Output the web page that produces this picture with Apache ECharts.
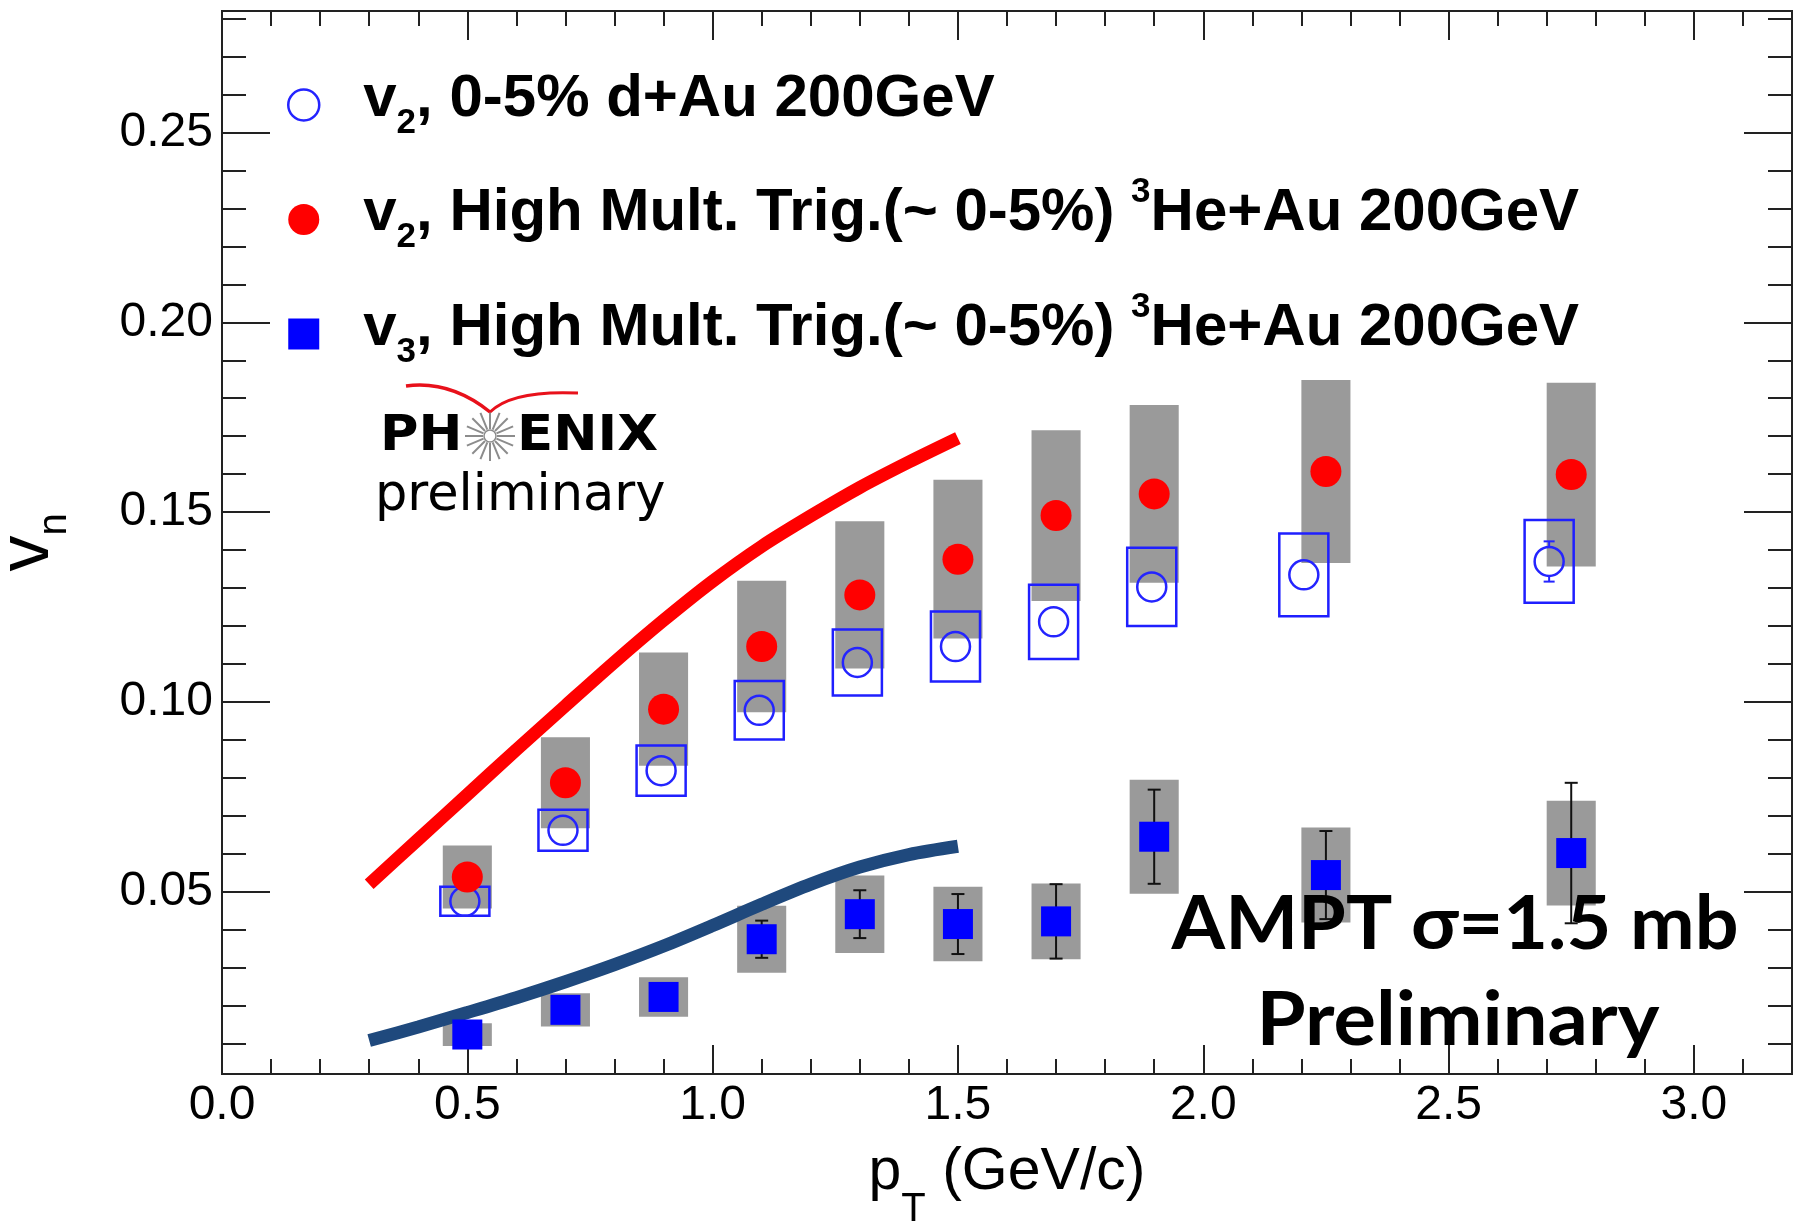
<!DOCTYPE html>
<html>
<head>
<meta charset="utf-8">
<script src="https://cdn.jsdelivr.net/npm/echarts@6/dist/echarts.min.js"></script>
<style>
  html, body { margin: 0; padding: 0; background: #fff; }
  #chart { width: 1810px; height: 1225px; }
</style>
</head>
<body>
<div id="chart"></div>
<script>
// vn vs pT : d+Au and 3He+Au (PHENIX preliminary) with AMPT curves

// --- data ---
const ptHe = [0.5, 0.7, 0.9, 1.1, 1.3, 1.5, 1.7, 1.9, 2.25, 2.75]
const ptDAu = [0.495, 0.695, 0.895, 1.095, 1.295, 1.495, 1.695, 1.895, 2.205, 2.705]

const v2He = [0.0539, 0.0787, 0.0981, 0.1146, 0.1282, 0.1376, 0.1491, 0.1548, 0.1607, 0.1599]
const v2HeSys = [0.0083, 0.012, 0.0149, 0.0173, 0.0194, 0.0209, 0.0225, 0.0234, 0.0241, 0.0242]

const v2DAu = [0.0475, 0.0662, 0.0819, 0.0978, 0.1104, 0.1146, 0.1211, 0.1303, 0.1335, 0.137]
const v2DAuSys = [0.0038, 0.0054, 0.0066, 0.0077, 0.0087, 0.0092, 0.0098, 0.0103, 0.0109, 0.0109]
const v2DAuStat = [0, 0, 0, 0, 0, 0, 0, 0, 0, 0.0053]

const v3He = [0.0124, 0.0189, 0.0223, 0.0375, 0.0441, 0.0415, 0.0422, 0.0645, 0.0544, 0.0602]
const v3HeStat = [0.002, 0.0025, 0.003, 0.0049, 0.0063, 0.0079, 0.0098, 0.0124, 0.0116, 0.0185]
const v3HeSys = [0.003, 0.0044, 0.0052, 0.0088, 0.0102, 0.0098, 0.01, 0.015, 0.0125, 0.0138]

const amptPt = [0.3, 0.4, 0.5, 0.6, 0.7, 0.8, 0.9, 1.0, 1.1, 1.2, 1.3, 1.4, 1.5]
const amptV2 = [0.052, 0.0638, 0.0756, 0.0874, 0.099, 0.1105, 0.1215, 0.1318, 0.141, 0.149, 0.1565, 0.1632, 0.1695]
const amptV3 = [0.0108, 0.0144, 0.0182, 0.0221, 0.0263, 0.0308, 0.0357, 0.0411, 0.0467, 0.052, 0.0565, 0.0598, 0.062]

const legendText = {
  dAu: '{p|v}{sub|2}{m|, 0-5% d+Au 200GeV}',
  HeV2: '{p|v}{sub|2}{m|, High Mult. Trig.(~ 0-5%) }{sup|3}{m|He+Au 200GeV}',
  HeV3: '{p|v}{sub|3}{m|, High Mult. Trig.(~ 0-5%) }{sup|3}{m|He+Au 200GeV}',
}

// axis ranges
const X_MIN = 0, X_MAX = 3.2
const Y_MIN = 0.002, Y_MAX = 0.282
const BOX_HALF = 0.05

const SANS = '"Liberation Sans", Arial, Helvetica, sans-serif'
const INK = '#222'

const zip = (xs, ys, es) => xs.map((x, i) => es ? [x, ys[i], es[i]] : [x, ys[i]])

function xAx(position, step, tickLen, labels) {
  return {
    type: 'value', position, min: X_MIN, max: X_MAX, interval: step,
    axisLine: { show: true, onZero: false, lineStyle: { color: INK, width: 2 } },
    axisTick: { show: true, inside: true, length: tickLen, lineStyle: { color: INK, width: 2 } },
    axisLabel: labels ? {
      show: true, margin: 8, color: '#000', fontFamily: SANS, fontSize: 48,
      showMaxLabel: false,
      formatter: v => Math.abs(v * 2 - Math.round(v * 2)) < 1e-6 ? v.toFixed(1) : '',
    } : { show: false },
    splitLine: { show: false },
  }
}

function yAx(position, step, tickLen, labels) {
  return {
    type: 'value', position, min: Y_MIN, max: Y_MAX,
    minInterval: step, maxInterval: step,
    splitNumber: Math.round((Y_MAX - Y_MIN) / step),
    axisLine: { show: true, onZero: false, lineStyle: { color: INK, width: 2 } },
    axisTick: { show: true, inside: true, length: tickLen, lineStyle: { color: INK, width: 2 } },
    axisLabel: labels ? {
      show: true, margin: 9, color: '#000', fontFamily: SANS, fontSize: 48,
      showMinLabel: false, showMaxLabel: false,
      formatter: v => Math.abs(v * 20 - Math.round(v * 20)) < 1e-6 ? v.toFixed(2) : '',
    } : { show: false },
    splitLine: { show: false },
  }
}

const sysBox = (fill, stroke) => (params, api) => {
  const x = api.value(0), v = api.value(1), e = api.value(2)
  const a = api.coord([x - BOX_HALF, v + e])
  const b = api.coord([x + BOX_HALF, v - e])
  return {
    type: 'rect',
    shape: { x: a[0], y: a[1], width: b[0] - a[0], height: b[1] - a[1] },
    style: stroke ? { fill: 'none', stroke, lineWidth: 2.5 } : { fill },
  }
}

// stat error bars, the part inside the marker (gap = marker radius) is skipped
const errBar = (color, gap, cap) => (params, api) => {
  const x = api.value(0), v = api.value(1), e = api.value(2)
  const children = []
  if (!e) return { type: 'group', children }
  const c = api.coord([x, v]), hi = api.coord([x, v + e]), lo = api.coord([x, v - e])
  const st = { stroke: color, lineWidth: 2 }
  if (c[1] - gap > hi[1]) {
    children.push({ type: 'line', shape: { x1: c[0], y1: hi[1], x2: c[0], y2: c[1] - gap }, style: st })
    children.push({ type: 'line', shape: { x1: c[0], y1: c[1] + gap, x2: c[0], y2: lo[1] }, style: st })
    children.push({ type: 'line', shape: { x1: c[0] - cap, y1: hi[1], x2: c[0] + cap, y2: hi[1] }, style: st })
    children.push({ type: 'line', shape: { x1: c[0] - cap, y1: lo[1], x2: c[0] + cap, y2: lo[1] }, style: st })
  }
  return { type: 'group', children }
}

function textWidth(str, font) {
  const ctx = document.createElement('canvas').getContext('2d')
  ctx.font = font
  return ctx.measureText(str).width
}

// PHENIX logo star
const starSpokes = []
for (let k = 0; k < 16; k++) {
  const a = k * Math.PI / 8
  starSpokes.push({
    type: 'line',
    shape: { x1: 490 + 7 * Math.cos(a), y1: 436 + 7 * Math.sin(a), x2: 490 + 25 * Math.cos(a), y2: 436 + 25 * Math.sin(a) },
    style: { stroke: '#8c8c8c', lineWidth: 2 },
  })
}

const amptFont = 'bold 74px Lato'
const amptScale = 567 / textWidth('AMPT σ=1.5 mb', amptFont)
const prelimScale = 403 / textWidth('Preliminary', amptFont)

const legendMain = { fontFamily: SANS, fontWeight: 'bold', fontSize: 60, lineHeight: 84, color: '#000' }

const options = {
  animation: false,
  backgroundColor: '#fff',
  grid: { left: 222, right: 18, top: 11, bottom: 151, containLabel: false, outerBoundsMode: 'none' },
  xAxis: [
    Object.assign(xAx('bottom', 0.5, 29, true), {
      name: '{a|p}{s|T}{a| (GeV/c)}',
      nameLocation: 'middle',
      nameGap: 42,
      nameTextStyle: {
        rich: {
          a: { fontFamily: SANS, fontSize: 59, lineHeight: 114, color: '#000' },
          s: { fontFamily: SANS, fontSize: 40, height: 40, verticalAlign: 'bottom', color: '#000' },
        },
      },
    }),
    xAx('bottom', 0.1, 15, false),
    xAx('top', 0.5, 29, false),
    xAx('top', 0.1, 15, false),
  ],
  yAxis: [
    Object.assign(yAx('left', 0.05, 48, true), {
      name: '{v|v}{n|n}',
      nameLocation: 'middle',
      nameRotate: 90,
      nameGap: 147,
      nameTextStyle: {
        rich: {
          v: { fontFamily: SANS, fontSize: 72, lineHeight: 94, color: '#000' },
          n: { fontFamily: SANS, fontSize: 40, height: 40, verticalAlign: 'bottom', color: '#000' },
        },
      },
    }),
    yAx('left', 0.01, 24, false),
    yAx('right', 0.05, 48, false),
    yAx('right', 0.01, 24, false),
  ],
  legend: {
    orient: 'vertical',
    left: 287,
    top: 69,
    padding: 0,
    itemGap: 34,
    itemWidth: 31,
    itemHeight: 31,
    selectedMode: false,
    data: [
      { name: 'dAu', icon: 'circle', itemStyle: { color: 'rgba(0,0,0,0)', borderColor: '#2424ff', borderWidth: 2.5 } },
      { name: 'HeV2', icon: 'circle', itemStyle: { color: '#ff0000' } },
      { name: 'HeV3', icon: 'rect', itemStyle: { color: '#0000ff' } },
    ],
    formatter: name => legendText[name],
    textStyle: {
      rich: {
        p: Object.assign({ padding: [0, 0, 12, 39] }, legendMain),
        m: Object.assign({ padding: [0, 0, 12, 0] }, legendMain),
        sub: { fontFamily: SANS, fontWeight: 'bold', fontSize: 35, height: 48, verticalAlign: 'bottom', color: '#000' },
        sup: { fontFamily: SANS, fontWeight: 'bold', fontSize: 35, height: 30, verticalAlign: 'top', color: '#000' },
      },
    },
  },
  graphic: [
    // red swoosh of the PHENIX logo
    { type: 'bezierCurve', z: 100, shape: { x1: 406, y1: 386, cpx1: 450, cpy1: 380, x2: 490, y2: 412 }, style: { stroke: '#e8111b', lineWidth: 3.5, fill: 'none' } },
    { type: 'bezierCurve', z: 100, shape: { x1: 490, y1: 412, cpx1: 512, cpy1: 390, x2: 578, y2: 393 }, style: { stroke: '#e8111b', lineWidth: 3, fill: 'none' } },
    { type: 'group', z: 100, children: starSpokes.concat([
      { type: 'circle', shape: { cx: 490, cy: 436, r: 6 }, style: { stroke: '#8c8c8c', fill: '#fff', lineWidth: 1.5 } },
    ]) },
    { type: 'text', z: 100, x: 380, y: 437, scaleX: 1.05, style: { text: 'PH', fontFamily: '"DejaVu Sans"', fontWeight: 'bold', fontSize: 50, fill: '#000', align: 'left', verticalAlign: 'middle' } },
    { type: 'text', z: 100, x: 517, y: 437, scaleX: 1.06, style: { text: 'ENIX', fontFamily: '"DejaVu Sans"', fontWeight: 'bold', fontSize: 50, fill: '#000', align: 'left', verticalAlign: 'middle' } },
    { type: 'text', z: 100, x: 375, y: 497, style: { text: 'preliminary', fontFamily: '"DejaVu Sans"', fontSize: 51, fill: '#000', align: 'left', verticalAlign: 'middle' } },
    // AMPT label
    { type: 'text', z: 100, x: 1455, y: 925, scaleX: amptScale, style: { text: 'AMPT σ=1.5 mb', font: amptFont, fill: '#000', align: 'center', verticalAlign: 'middle' } },
    { type: 'text', z: 100, x: 1458, y: 1021, scaleX: prelimScale, style: { text: 'Preliminary', font: amptFont, fill: '#000', align: 'center', verticalAlign: 'middle' } },
  ],
  series: [
    { name: 'sysHeV2', type: 'custom', renderItem: sysBox('#9a9a9a'), data: zip(ptHe, v2He, v2HeSys), encode: { x: 0, y: 1 }, z: 1 },
    { name: 'sysHeV3', type: 'custom', renderItem: sysBox('#9a9a9a'), data: zip(ptHe, v3He, v3HeSys), encode: { x: 0, y: 1 }, z: 1 },
    { name: 'sysDAu', type: 'custom', renderItem: sysBox(null, '#1f1fff'), data: zip(ptDAu, v2DAu, v2DAuSys), encode: { x: 0, y: 1 }, z: 2 },
    { name: 'AMPT v2', type: 'line', data: zip(amptPt, amptV2), smooth: 0.3, symbol: 'none', lineStyle: { color: '#ff0000', width: 13, cap: 'butt' }, z: 3 },
    { name: 'AMPT v3', type: 'line', data: zip(amptPt, amptV3), smooth: 0.3, symbol: 'none', lineStyle: { color: '#1f497d', width: 13, cap: 'butt' }, z: 3 },
    { name: 'statHeV3', type: 'custom', renderItem: errBar('#111', 0, 6.5), data: zip(ptHe, v3He, v3HeStat), encode: { x: 0, y: 1 }, z: 4 },
    { name: 'statDAu', type: 'custom', renderItem: errBar('#2424ff', 15, 5.5), data: zip(ptDAu, v2DAu, v2DAuStat), encode: { x: 0, y: 1 }, z: 4 },
    { name: 'dAu', type: 'scatter', data: zip(ptDAu, v2DAu), symbol: 'circle', symbolSize: 29, itemStyle: { color: 'rgba(0,0,0,0)', borderColor: '#2424ff', borderWidth: 2.5, opacity: 1 }, z: 5 },
    { name: 'HeV2', type: 'scatter', data: zip(ptHe, v2He), symbol: 'circle', symbolSize: 31, itemStyle: { color: '#ff0000', opacity: 1 }, z: 5 },
    { name: 'HeV3', type: 'scatter', data: zip(ptHe, v3He), symbol: 'rect', symbolSize: 30, itemStyle: { color: '#0000ff', opacity: 1 }, z: 5 },
  ],
}

const chart = echarts.init(document.getElementById('chart'))
chart.setOption(options)
</script>
</body>
</html>
